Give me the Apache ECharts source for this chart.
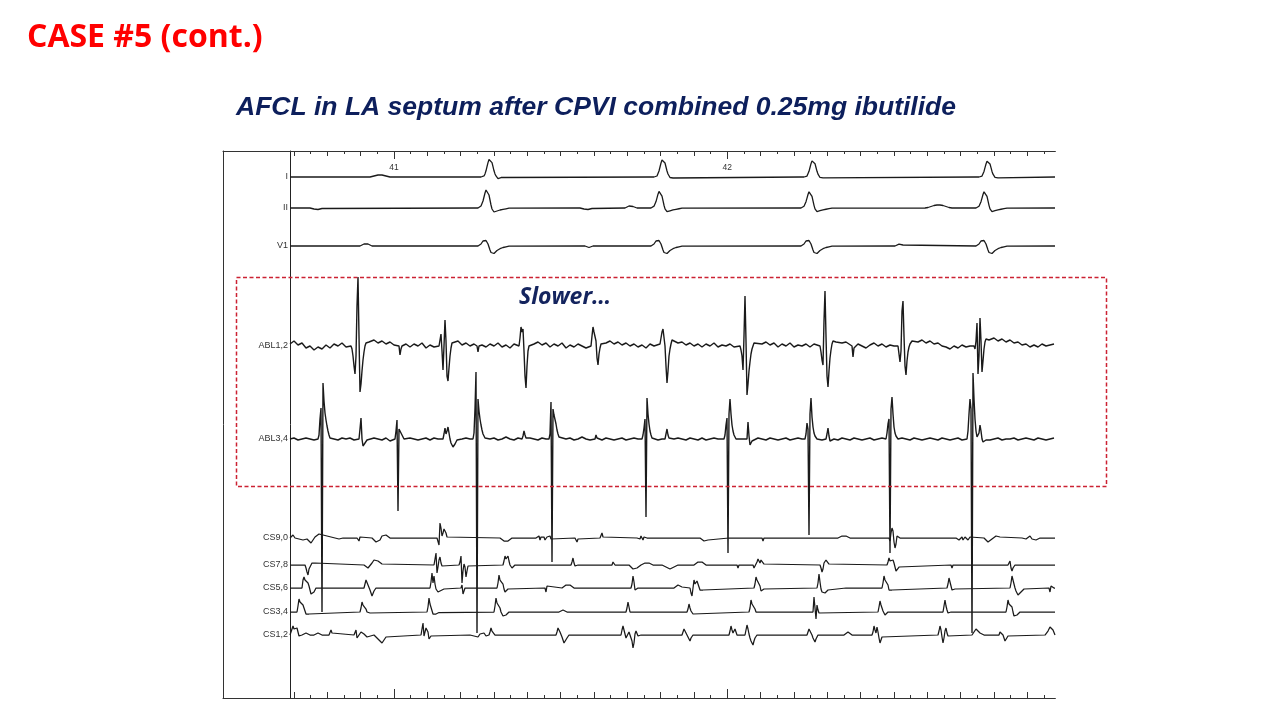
<!DOCTYPE html>
<html><head><meta charset="utf-8">
<script src="https://cdn.jsdelivr.net/npm/echarts@6/dist/echarts.min.js"></script>
<style>html,body{margin:0;padding:0;background:#fff}#c{width:1280px;height:720px}</style>
</head><body><div id="c"></div>
<script>
// ---------- recording time base (ms) ----------
const REC_START = 40688;      // absolute time at left edge of traces
const REC_LEN = 2295;         // ms shown
const SECOND_MARKS = [41, 42];

// ---------- channel names ----------
const CHANNELS = ['I', 'II', 'V1', 'ABL1,2', 'ABL3,4', 'CS9,0', 'CS7,8', 'CS5,6', 'CS3,4', 'CS1,2'];

// ---------- surface ECG: QRS times (ms from start) and template shapes (3 ms step, start -36 ms) ----------
const QRS_TIMES = [600, 1119, 1569, 2094];
const QRS_SCALE_I = [1.03, 1.0, 0.95, 0.93];
const QRS_SCALE_II = [1.0, 0.92, 0.9, 0.9];
const QRS_SCALE_V1 = [1.0, 1.0, 1.0, 1.0];
const QRS_SHAPE_I = [0,0,0,0,0,0.5,1,3,6,10,14,17,18,17,14,10,6,3,1,-0.5,-1.5,-1.5,-1,-0.5,0];
const QRS_SHAPE_II = [0,0.5,1,2,4,7,11,15,18,18.5,17,13,8,3,-1,-3,-4,-4,-3.5,-3,-2.5,-2.2,-2,-1.8,-1.6,-1.4,-1.2,-1,-0.8,-0.6,-0.4,-0.2,0];
const QRS_SHAPE_V1 = [0,0.5,1,2,3.5,5,6,6,5.5,4,2,-1,-4,-6.5,-8,-8.3,-7.5,-6.5,-5.5,-4.5,-3.8,-3.2,-2.7,-2.2,-1.8,-1.5,-1.2,-1,-0.8,-0.6,-0.4,-0.2,0];
// slow baseline waves [start ms, step ms, amplitudes]
const WAVES_I = [[240,6,[0,0.5,1,1.5,2,2,2,1.5,1,0.5,0]]];
const WAVES_II = [[60,6,[0,-0.5,-1,-1.5,-1.5,-1,-0.5,0]],[870,6,[0,-0.5,-1,-1.5,-1.5,-1,-0.5,0]],[1005,6,[0,1,2,2,1.5,1,0]],[1905,9,[0,0.5,1.5,2.5,3,3,2.5,1.5,0.5,0]]];
const WAVES_V1 = [[210,6,[0,1,2,2.5,2,1,0]],[885,6,[0,-1,-1.5,-1,0]],[1815,6,[0,1,1.8,1.8,1,0]]];

// ---------- intracardiac electrograms: deflections [start ms, step ms, amplitudes] ----------
const ABL12 = [
  [183,3,[0,-3,-10,-20,-28,-10,40,69,10,-46,-38,-25,-14,-6,0,3,4,5,4]],
  [327,3,[0,-9,-3,0]],
  [447,3,[0,6,12,-5,-24,0,26,5,-30,-35,-22,-10,-2,3,4]],
  [561,3,[0,-6,0]],
  [687,3,[0,8,19,14,17,-5,-30,-42,-20,-5,0,2]],
  [903,3,[0,10,19,14,16,5,-12,-19,-8,-2,2]],
  [1110,3,[2,8,14,17,16,0,-20,-37,-25,-10,-3,2,6]],
  [1350,3,[0,-4,-10,-24,10,50,5,-49,-38,-25,-16,-8,-3,0,3,5,5]],
  [1590,3,[0,-6,-14,-19,25,55,10,-30,-41,-25,-12,-4,2,5,6,6,4]],
  [1686,3,[0,-11,-2,0]],
  [1824,3,[0,-8,-16,-5,35,45,10,-20,-29,-15,-6,-1,2,4,5]],
  [2052,3,[0,-3,5,23,-28,-10,28,5,-26,-15,-3,4,7,9,8,6]]
];
const ABL12_NOISE = [2,5,1,3,-2,0,-4,-1,-3,1, -2,2,0,3,-1,2,0,3,1,0, 4,6,3,5,2,4,1,3,0,2, -1,2,0,3,-2,1,-1,2,0,1,
  4,3,5,1,3,0,2,-2,1,-1, 2,0,3,-1,1,-2,2,0,1,0, 5,2,4,1,3,-1,2,0,3,-2, 1,-1,2,0,-2,1,3,0,1,3,
  5,2,4,1,3,0,2,-1,1,-2, 2,0,3,1,0,2,5,3,4,1, 3,0,2,-1,2,0,3,-1,1,0, 2,-1,1,-3,0,0,4,5,2,4,
  1,3,-1,2,0,3,-1,1,0,2, -1,2,0,1,-2,0,3,5,3,4, 1,-2,2,0,-2,1,3,0,2,-1, 1,0,2,-2,0,0,0,4,6,3,
  5,2,3,0,-1,-3,0,-2,1,-1, 0,-2,0,0,0,6,8,5,7,4, 6,3,4,1,2,-1,1,-1,2,0,1,2];
const ABL34 = [
  [84,3,[0,4,20,31,-173,56,38,26,19,13,8,4,1]],
  [207,3,[0,10,21,0,-7,-5,-4,-2,-1,0]],
  [315,3,[0,8,19,-72,10,12,8,4,2,0]],
  [459,3,[0,5,11,5,8,12,6,0,-4,-6,-8,-7,-5,-3,-1,0]],
  [549,3,[0,6,30,67,-194,40,28,20,14,9,5,3,1,0]],
  [696,3,[0,3,8,4,1,0]],
  [777,3,[0,5,37,-123,30,24,22,15,9,5,2,0]],
  [915,3,[0,4,1,0]],
  [1056,3,[0,4,11,20,-78,41,25,15,8,4,1,0]],
  [1125,3,[0,5,10,4,1,0]],
  [1302,3,[0,4,14,21,-114,25,40,25,14,8,4,2,0]],
  [1371,3,[0,17,3,-6,-4,-2,0]],
  [1545,3,[0,5,16,10,-96,25,41,22,12,6,3,1,0]],
  [1608,3,[0,5,11,3,-2,0]],
  [1788,3,[0,6,15,20,-114,30,42,25,12,6,3,1,0]],
  [2031,3,[0,8,25,40,30,-194,66,40,20,8,2,0,6,14,8,0,-3,-4,-3,-1,0]]
];
const ABL34_NOISE = [0,1,-1,0,1,0,-1,1,0,-1, 1,0,-1,1,0,1,-1,0,1,-1, 0,1,0,-1,1,-2,0,1,-1,0, 1,0,-1,0,1,-1,1,0,-1,1,
  0,-1,1,0,1,0,-1,0,1,-1, 0,1,-1,0,2,0,-1,1,0,-1, 1,0,-1,1,0,-1,0,1,-1,0, 1,-1,0,2,0,-1,1,0,-1,1,
  0,-1,0,1,-1,0,1,0,-1,1, 0,1,-1,0,1,-1,0,1,0,-1, 1,0,-1,1,-1,0,1,0,1,-1, 0,1,-1,0,1,0,-1,1,0,-1,
  1,0,-1,0,1,-1,0,1,0,-2, -1,0,1,-1,0,1,0,-1,1,0, -1,1,0,-1,0,1,-1,0,1,0, 1,-1,0,1,0,-1,1,0,-1,0,
  1,0,-1,1,0,-1,0,1,-1,0, 1,0,-1,1,0,-1,0,1,-1,0, 0,1,-1,0,1,0,-1,1,0,-1, 0,1];
const NOISE_STEP = 12;
const CS90 = [
  [3,6,[1,3,0,2,-1,1,-2,0,-1,-3,-5,-2,1,3,4,4,3,3,2,2,1,1,0,0,-1,-1,0]],
  [201,3,[0,2,-3,1,0]],
  [246,6,[0,-2,-4,-5,-2,2,4,3,1,0]],
  [441,3,[0,-2,-7,15,10,2,5,9,11,5,1,0]],
  [630,6,[0,-1,-3,-5,-3,-1,0]],
  [738,3,[0,1,-1,2,-2,1,0,-1,1,-2,0,1,-1,0,2,-1,0]],
  [855,3,[0,-2,-4,-1,0]],
  [930,3,[0,2,5,1,0]],
  [1041,3,[0,-2,1,-1,2,0,-2,1,3,-1,0,1,0]],
  [1167,3,[0,2,0]],
  [1230,6,[0,-1,-3,-4,-2,0]],
  [1317,3,[0,2,1,0]],
  [1416,3,[0,-3,0]],
  [1644,6,[0,1,2,3,2,1,0]],
  [1797,3,[0,-3,5,10,7,-4,-10,-6,2,3,1,0]],
  [1998,3,[0,-1,1,-2,0,-1,1,-2,0,1,-1,0,-2,0,1,0]],
  [2082,6,[0,-2,-4,-3,-1,1,2,2,1,0]],
  [2196,6,[0,1,-1,0,2,-1,0,-2,-1,0,1,0,-1,0]]
];
const CS78 = [
  [45,3,[0,-3,-7,-10,-4,-6,-2,2,3,3,2,1,0]],
  [222,6,[0,-1,-3,-1,2,5,3,4,2,1,0]],
  [432,3,[0,2,12,-8,-2,5,8,2,-1,0]],
  [507,3,[0,3,9,-18,-6,1,-2,-12,-6,-1,0]],
  [639,3,[0,4,9,6,7,9,4,0,-2,-3,-2,-1,0]],
  [843,3,[0,3,7,2,-1,-2,-1,0]],
  [966,3,[0,3,1,0]],
  [1017,6,[0,-2,-4,-5,-3,-1,0,1,2,3,2,1,0]],
  [1116,6,[0,-1,-2,-3,-4,-3,-2,-1,0]],
  [1212,6,[0,1,3,5,3,1,0]],
  [1341,3,[0,-3,0]],
  [1389,3,[0,-3,-5,-2,3,6,4,2,5,6,3,1,0]],
  [1590,3,[0,-3,-7,-4,2,4,5,5,3,1,0]],
  [1791,3,[0,3,7,4,3,6,5,2,-2,-6,-8,-5,-2,0]],
  [1983,3,[0,-3,0]],
  [2154,3,[0,2,4,-3,-6,-3,-1,0]]
];
const CS56 = [
  [36,3,[0,8,11,8,6,8,5,2,-2,-6,-8,-6,-4,-2,0]],
  [222,3,[0,4,8,6,3,1,-2,-5,-8,-6,-3,-1,0]],
  [420,3,[0,6,15,5,12,4,-1,-3,-4,-3.5,-3,-2.5,-2,-1.5,-1,-0.5,0]],
  [513,3,[0,3,-6,-3,0]],
  [621,3,[0,5,13,8,6,10,4,-1,-4,-3,-2,-1,0]],
  [765,3,[0,-4,2,0]],
  [816,6,[0,1,3,4,3,1,0]],
  [1023,3,[0,4,12,6,-2,-2,-1,0]],
  [1152,6,[0,1,3,2,1,0]],
  [1200,3,[0,-5,-8,0,8,4,2,7,5,1,-2,-4,-3,-2,-1,0]],
  [1392,3,[0,4,11,8,6,8,2,-3,-4,-2,-1,0]],
  [1581,3,[0,5,14,6,-1,-4,-4,-5,-5,-4,-3,-2,-1,0]],
  [1668,3,[0,2,0]],
  [1776,3,[0,5,12,8,6,8,3,-2,-4,-3,-2,-1,0]],
  [1971,3,[0,4,10,6,2,-2,-3,-2,-1,0]],
  [2160,3,[0,5,12,8,4,0,-3,-5,-7,-6,-5,-4,-3,-2,-1,0]],
  [2277,3,[0,-4,2,4,2,0]]
];
const CS34 = [
  [21,3,[0,6,13,10,9,10,7,4,1,-2,-3,-3,-2,-1,0]],
  [210,3,[0,4,10,7,6,7,3,0,-2,-2,-1,0]],
  [411,3,[0,5,14,8,10,6,-2,-4,-3,-2,-1.5,-1,-0.5,0]],
  [612,3,[0,6,14,9,8,9,4,0,-2,-4,-5,-4,-3,-2,-1,0]],
  [807,6,[0,1,2,1,0]],
  [1008,3,[0,4,10,5,0,-2,-1,0]],
  [1191,3,[0,3,8,4,1,-1,-2,-1,0]],
  [1377,3,[0,4,12,8,7,8,3,0,-2,-1,0]],
  [1569,3,[0,15,4,-7,7,2,-1,0]],
  [1764,3,[0,5,11,7,4,1,-1,-3,-2,-1,0]],
  [1959,3,[0,6,12,6,2,-1,-1,-1,0]],
  [2148,3,[0,5,12,8,9,10,5,0,-4,-6,-4,-3,-2,-1,0]]
];
const CS12 = [
  [3,3,[0,6,9,6,4,6,7,3,-1,-2,-1,0]],
  [36,6,[0,1,2,1,0,-1,0,1,2,1,0]],
  [117,3,[0,2,5,2,0]],
  [192,3,[0,2,5,-3,-1,0,1,3,5,3,1,0,-1,-2,-1,0]],
  [252,6,[0,-2,-4,-6,-8,-5,-2,0]],
  [393,3,[0,6,12,-1,3,7,8,3,-4,-3,-1,0]],
  [540,6,[0,2,-1,1,-2,1,0,2,-1,0]],
  [597,3,[0,3,7,4,6,3,0,-1,0]],
  [798,3,[0,3,7,5,3,1,-2,-5,-8,-10,-6,-3,-1,0]],
  [993,3,[0,5,9,5,1,-3,-5,-1,3,5,1,-6,-13,-8,1,4,2,-1,-2,-1,0]],
  [1176,3,[0,3,6,4,2,0,-2,-4,-6,-3,-1,0]],
  [1317,3,[0,4,9,5,2,3,6,3,0]],
  [1365,3,[0,5,10,6,1,-3,-6,-8,-10,-6,-3,-1,0]],
  [1551,3,[0,3,6,8,4,0,-3,-5,-7,-4,-2,0]],
  [1662,6,[0,1,3,1,0]],
  [1746,3,[0,3,9,5,2,8,3,-3,-8,-5,-2,0]],
  [1944,3,[0,4,9,5,-2,-8,-3,4,7,2,-1,0]],
  [2046,6,[0,3,6,4,2,1,0]],
  [2127,3,[0,3,5,3,0,-3,-6,-8,-4,-1,0]],
  [2265,3,[0,1,2,4,6,8,9,7,5,6]]
];

// ---------- layout (lane baselines in axis units, line widths) ----------
const LANE = {'I':521,'II':490,'V1':452,'ABL1,2':352,'ABL3,4':259,'CS9,0':160,'CS7,8':133,'CS5,6':110,'CS3,4':86,'CS1,2':63};
const Y_MAX = 547;

function beatsToEvents(times, scales, shape) {
  return times.map((t, i) => [t - 36, 3, shape.map(v => v * scales[i])]);
}
function buildTrace(events, noise, step) {
  const pts = [];
  const spans = events.map(e => [e[0], e[0] + e[1] * (e[2].length - 1)]);
  if (noise) {
    noise.forEach((v, i) => {
      const t = i * step;
      if (!spans.some(s => t > s[0] - step * 0.6 && t < s[1] + step * 0.6)) pts.push([t, v]);
    });
  } else {
    if (!spans.some(s => s[0] <= 0)) pts.push([0, 0]);
    if (!spans.some(s => s[1] >= REC_LEN)) pts.push([REC_LEN, 0]);
  }
  events.forEach(e => e[2].forEach((a, i) => pts.push([e[0] + i * e[1], a])));
  pts.sort((a, b) => a[0] - b[0]);
  return pts;
}

const TRACES = {
  'I': buildTrace(beatsToEvents(QRS_TIMES, QRS_SCALE_I, QRS_SHAPE_I).concat(WAVES_I)),
  'II': buildTrace(beatsToEvents(QRS_TIMES, QRS_SCALE_II, QRS_SHAPE_II).concat(WAVES_II)),
  'V1': buildTrace(beatsToEvents(QRS_TIMES, QRS_SCALE_V1, QRS_SHAPE_V1).concat(WAVES_V1)),
  'ABL1,2': buildTrace(ABL12, ABL12_NOISE, NOISE_STEP),
  'ABL3,4': buildTrace(ABL34, ABL34_NOISE, NOISE_STEP),
  'CS9,0': buildTrace(CS90),
  'CS7,8': buildTrace(CS78),
  'CS5,6': buildTrace(CS56),
  'CS3,4': buildTrace(CS34),
  'CS1,2': buildTrace(CS12)
};
const WIDTH = {'I':1.3,'II':1.3,'V1':1.3,'ABL1,2':1.4,'ABL3,4':1.4,'CS9,0':1.25,'CS7,8':1.25,'CS5,6':1.25,'CS3,4':1.25,'CS1,2':1.25};

// ---------- ticks ----------
const T_END = REC_START + REC_LEN;
const ticks100 = [], ticks50 = [], ticks1s = SECOND_MARKS.map(s => s * 1000);
for (let t = Math.ceil(REC_START / 50) * 50; t <= T_END; t += 50) {
  if (t % 100 === 0) ticks100.push(t); else ticks50.push(t);
}

const FRAME = '#333';
const GRID_RECT = {left: 290, right: 225, top: 151, bottom: 22};
function xAx(grid, pos, ticks, len, extra) {
  return Object.assign({
    type: 'value', gridIndex: grid, position: pos, min: REC_START, max: T_END,
    axisLine: {show: true, lineStyle: {color: FRAME, width: 1}},
    axisTick: {show: true, inside: true, length: len, customValues: ticks, lineStyle: {color: FRAME, width: 1}},
    axisLabel: {show: false}, splitLine: {show: false}
  }, extra || {});
}

const series = CHANNELS.map(name => ({
  name, type: 'line', xAxisIndex: 0, yAxisIndex: 0, showSymbol: false, symbol: 'none',
  silent: true, animation: false, clip: true,
  lineStyle: {color: '#1a1a1a', width: WIDTH[name]},
  data: TRACES[name].map(p => [REC_START + p[0], LANE[name] + p[1]])
}));

const chart = echarts.init(document.getElementById('c'), null, {renderer: 'canvas'});
chart.setOption({
  animation: false,
  backgroundColor: '#fff',
  title: [
    {text: 'CASE #5 (cont.)', left: 22, top: 17,
      textStyle: {color: '#ff0000', fontFamily: 'Open Sans', fontWeight: 'bold', fontSize: 32}},
    {text: 'AFCL in LA septum after CPVI combined 0.25mg ibutilide', left: 231, top: 89,
      textStyle: {color: '#0d1f5c', fontFamily: 'Liberation Sans', fontWeight: 'bold', fontStyle: 'italic', fontSize: 26.5}}
  ],
  grid: [
    Object.assign({}, GRID_RECT),
    Object.assign({}, GRID_RECT),
    Object.assign({}, GRID_RECT),
    {left: 223, width: 67, top: 151, bottom: 22}
  ],
  xAxis: [
    xAx(0, 'bottom', ticks100, 6),
    xAx(0, 'top', ticks100, 5),
    xAx(1, 'bottom', ticks50, 3),
    xAx(1, 'top', ticks50, 3),
    xAx(2, 'bottom', ticks1s, 9),
    xAx(2, 'top', ticks1s, 8, {axisLabel: {show: true, inside: true, customValues: ticks1s, margin: 12,
      formatter: v => String(v / 1000), fontSize: 8.5, color: '#333', fontFamily: 'Liberation Sans'}}),
    {type: 'value', gridIndex: 3, position: 'bottom', min: 0, max: 1, axisLine: {lineStyle: {color: FRAME}}, axisTick: {show: false}, axisLabel: {show: false}, splitLine: {show: false}},
    {type: 'value', gridIndex: 3, position: 'top', min: 0, max: 1, axisLine: {lineStyle: {color: FRAME}}, axisTick: {show: false}, axisLabel: {show: false}, splitLine: {show: false}}
  ],
  yAxis: [
    {type: 'value', gridIndex: 0, min: 0, max: Y_MAX, position: 'left',
      axisLine: {show: true, lineStyle: {color: '#222', width: 1}}, axisTick: {show: false}, splitLine: {show: false},
      axisLabel: {show: true, margin: 2, customValues: CHANNELS.map(n => LANE[n]),
        formatter: v => CHANNELS.find(n => LANE[n] === v) || '', fontSize: 9, color: '#333', fontFamily: 'Liberation Sans'}},
    {type: 'value', gridIndex: 1, min: 0, max: Y_MAX, show: false},
    {type: 'value', gridIndex: 2, min: 0, max: Y_MAX, show: false},
    {type: 'value', gridIndex: 3, min: 0, max: 1, position: 'left', axisLine: {show: true, lineStyle: {color: FRAME}}, axisTick: {show: false}, axisLabel: {show: false}, splitLine: {show: false}}
  ],
  series,
  graphic: [
    {type: 'rect', silent: true, z: 10, shape: {x: 236.5, y: 277.5, width: 870, height: 209},
      style: {fill: 'none', stroke: '#cc2233', lineWidth: 1.5, lineDash: [4, 2.5]}},
    {type: 'text', silent: true, z: 10, x: 519, y: 297,
      style: {text: 'Slower…', fill: '#14245e', font: 'italic bold 23px "Open Sans"', verticalAlign: 'middle'}}
  ]
});
</script></body></html>
